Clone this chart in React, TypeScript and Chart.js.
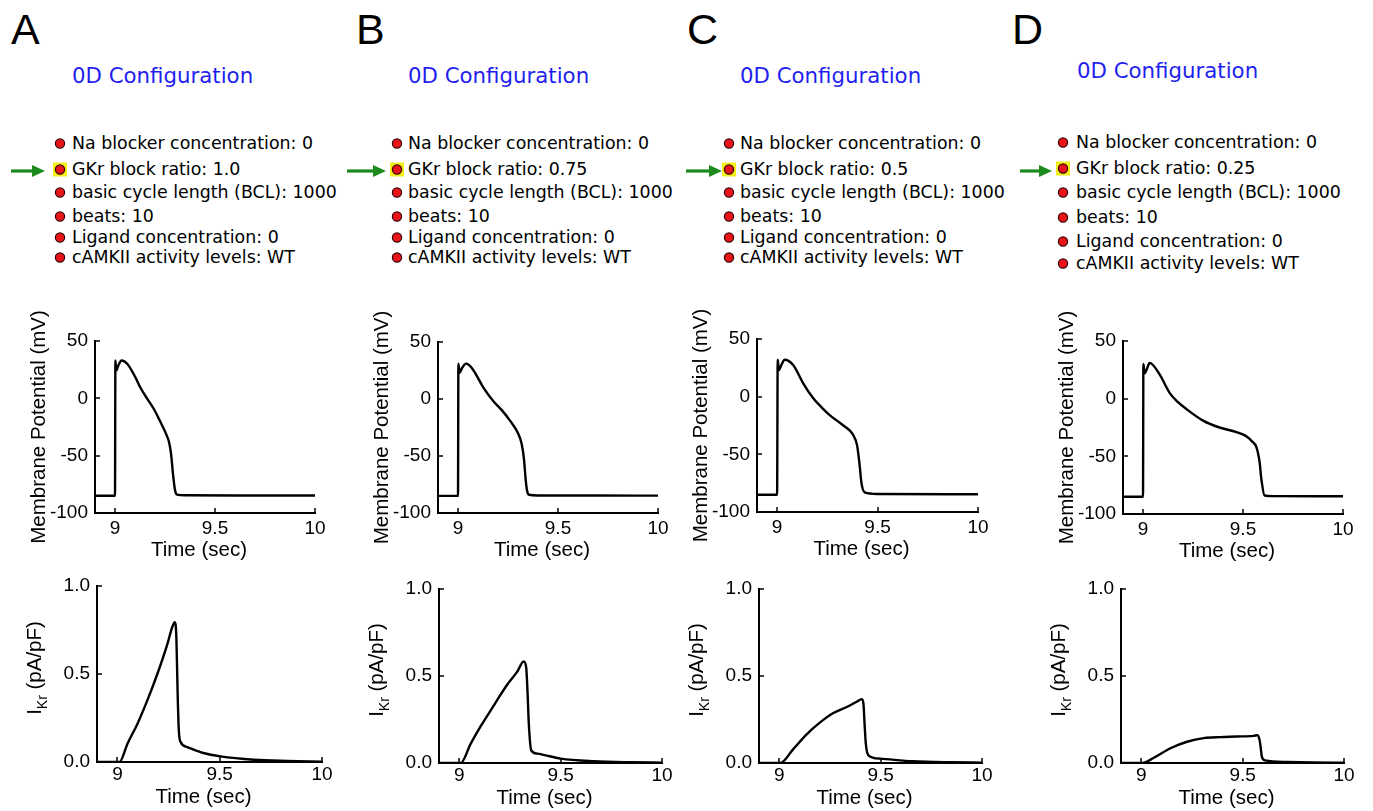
import React, { useEffect, useRef } from 'react';
import { Chart, registerables } from 'chart.js';

Chart.register(...registerables);

// ---------------- data ----------------
const panelLetters = ['A', 'B', 'C', 'D'];
const gkrBlockRatios = ['1.0', '0.75', '0.5', '0.25'];
const paramNames = [
  'Na blocker concentration',
  'GKr block ratio',
  'basic cycle length (BCL)',
  'beats',
  'Ligand concentration',
  'cAMKII activity levels',
];
const naBlocker = '0';
const bcl = '1000';
const beats = '10';
const ligand = '0';
const camkii = 'WT';

const xTickValues = [9, 9.5, 10];
const xTickLabels = ['9', '9.5', '10'];
const vmTickValues = [-100, -50, 0, 50];
const vmTickLabels = ['-100', '-50', '0', '50'];
const ikrTickValues = [0, 0.5, 1.0];
const ikrTickLabels = ['0.0', '0.5', '1.0'];

// Membrane potential (mV) vs time (sec)
const apTimeA = [8.9, 9.0, 9.002, 9.006, 9.015, 9.033, 9.062, 9.1, 9.128, 9.16, 9.195, 9.22, 9.245, 9.26, 9.27, 9.28, 9.29, 9.3, 9.31, 9.35, 9.6, 10];
const apVoltA = [-85, -85, 33, 24, 28, 33, 30, 19, 9, 0, -9.5, -18, -27, -33, -38, -48, -66, -80, -84, -84.5, -84.7, -84.8];

const apTimeB = [8.9, 9.0, 9.002, 9.008, 9.02, 9.04, 9.07, 9.127, 9.177, 9.22, 9.26, 9.3, 9.318, 9.33, 9.338, 9.345, 9.355, 9.4, 9.7, 10];
const apVoltB = [-85, -85, 31, 23, 27, 31, 27, 10, -2, -10, -19, -30, -39, -53, -70, -80, -84, -84.6, -84.7, -84.8];

const apTimeC = [8.9, 9.0, 9.003, 9.009, 9.02, 9.038, 9.08, 9.13, 9.18, 9.22, 9.262, 9.3, 9.33, 9.36, 9.378, 9.398, 9.41, 9.42, 9.436, 9.5, 10];
const apVoltC = [-85, -85, 32, 23, 27, 32, 27.5, 11.6, -1.4, -9, -16, -21, -25, -29, -33, -42, -58, -75, -83, -84.4, -84.6];

const apTimeD = [8.9, 9.0, 9.002, 9.008, 9.02, 9.033, 9.083, 9.133, 9.175, 9.217, 9.3, 9.383, 9.467, 9.52, 9.545, 9.567, 9.583, 9.592, 9.608, 9.65, 10];
const apVoltD = [-85, -85, 30, 22, 26, 31, 21, 5, -3, -9, -19, -25, -29, -33, -37, -42, -55, -70, -84, -84.5, -84.6];

// IKr (pA/pF) vs time (sec)
const ikrTimeA = [8.9, 9.0, 9.01, 9.049, 9.098, 9.146, 9.195, 9.244, 9.268, 9.28, 9.288, 9.294, 9.3, 9.309, 9.341, 9.42, 9.504, 9.667, 9.83, 10];
const ikrCurrA = [0, 0, 0, 0.104, 0.218, 0.35, 0.5, 0.67, 0.767, 0.795, 0.71, 0.4, 0.18, 0.114, 0.085, 0.051, 0.032, 0.013, 0.006, 0.002];

const ikrTimeB = [8.9, 9.0, 9.007, 9.056, 9.105, 9.17, 9.236, 9.286, 9.318, 9.33, 9.337, 9.343, 9.355, 9.384, 9.5, 9.663, 9.85, 10];
const ikrCurrB = [0, 0, 0, 0.11, 0.21, 0.33, 0.45, 0.525, 0.583, 0.55, 0.4, 0.227, 0.073, 0.054, 0.025, 0.01, 0.004, 0.002];

const ikrTimeC = [8.9, 9.0, 9.005, 9.069, 9.135, 9.2, 9.267, 9.333, 9.382, 9.407, 9.415, 9.421, 9.427, 9.44, 9.497, 9.66, 9.85, 10];
const ikrCurrC = [0, 0, 0, 0.08, 0.165, 0.232, 0.287, 0.322, 0.352, 0.367, 0.342, 0.22, 0.11, 0.044, 0.025, 0.01, 0.004, 0.002];

const ikrTimeD = [8.9, 9.0, 9.005, 9.062, 9.144, 9.226, 9.308, 9.39, 9.472, 9.554, 9.574, 9.584, 9.59, 9.595, 9.611, 9.718, 9.85, 10];
const ikrCurrD = [0, 0, 0, 0.03, 0.085, 0.122, 0.143, 0.149, 0.152, 0.156, 0.16, 0.13, 0.08, 0.035, 0.015, 0.006, 0.003, 0.002];

// ---------------- layout ----------------
const TICK_FONT = '"Liberation Sans", Arial, Helvetica, sans-serif';
const HEAD_FONT = '"DejaVu Sans", Verdana, sans-serif';

type Box = { left: number; top: number; right: number; bottom: number };

const headers = [
  { letterX: 11, titleX: 72, titleY: 83, bulletX: 60, textX: 72, baselines: [149, 175, 198, 222, 243, 263], arrow: [11, 45, 171] },
  { letterX: 356, titleX: 408, titleY: 83, bulletX: 397, textX: 408, baselines: [149, 175, 198, 222, 243, 263], arrow: [347, 386, 171] },
  { letterX: 687, titleX: 740, titleY: 83, bulletX: 729, textX: 740, baselines: [149, 175, 198, 222, 243, 263], arrow: [686, 722, 171] },
  { letterX: 1012, titleX: 1077, titleY: 78, bulletX: 1063, textX: 1076, baselines: [148, 174, 198, 223, 247, 269], arrow: [1020, 1052, 171] },
];

const apBoxes: Box[] = [
  { left: 95, top: 341, right: 315, bottom: 513 },
  { left: 438, top: 342, right: 658, bottom: 513 },
  { left: 757, top: 339, right: 978, bottom: 512 },
  { left: 1123, top: 341, right: 1343, bottom: 514 },
];
const ikrBoxes: Box[] = [
  { left: 97, top: 586, right: 322, bottom: 762 },
  { left: 439, top: 589, right: 662, bottom: 763 },
  { left: 759, top: 589, right: 982, bottom: 763 },
  { left: 1121, top: 589, right: 1344, bottom: 763 },
];

const apSeries = [
  [apTimeA, apVoltA],
  [apTimeB, apVoltB],
  [apTimeC, apVoltC],
  [apTimeD, apVoltD],
];
const ikrSeries = [
  [ikrTimeA, ikrCurrA],
  [ikrTimeB, ikrCurrB],
  [ikrTimeC, ikrCurrC],
  [ikrTimeD, ikrCurrD],
];

type Seg = { text: string; sub?: boolean };

const axisDecor = {
  id: 'axisDecor',
  afterDraw(chart: any, _args: any, opts: any) {
    const { ctx, chartArea: ca, scales } = chart;
    ctx.save();
    ctx.strokeStyle = '#000';
    ctx.lineWidth = 1.5;
    ctx.beginPath();
    scales.x.ticks.forEach((t: any) => {
      const px = Math.round(scales.x.getPixelForValue(t.value));
      ctx.moveTo(px, ca.bottom);
      ctx.lineTo(px, ca.bottom - 5);
    });
    scales.y.ticks.forEach((t: any) => {
      const py = Math.round(scales.y.getPixelForValue(t.value));
      ctx.moveTo(ca.left, py);
      ctx.lineTo(ca.left + 5, py);
    });
    ctx.stroke();

    // x title
    ctx.fillStyle = '#000';
    ctx.font = `${opts.titleSize}px ${TICK_FONT}`;
    ctx.textAlign = 'center';
    ctx.textBaseline = 'middle';
    ctx.fillText(opts.xTitle, (ca.left + ca.right) / 2 + opts.xTitleDx, ca.bottom + opts.xTitleDy);

    // y title (rotated, with optional subscript)
    const segs: Seg[] = opts.yTitle;
    const subSize = Math.round(opts.titleSize * 0.66);
    let total = 0;
    const widths = segs.map((s) => {
      ctx.font = `${s.sub ? subSize : opts.titleSize}px ${TICK_FONT}`;
      const w = ctx.measureText(s.text).width;
      total += w;
      return w;
    });
    ctx.translate(ca.left + opts.yTitleDx, (ca.top + ca.bottom) / 2 + opts.yTitleDy);
    ctx.rotate(-Math.PI / 2);
    ctx.textAlign = 'left';
    ctx.textBaseline = 'alphabetic';
    let x = -total / 2;
    const base = opts.titleSize * 0.35;
    segs.forEach((s, i) => {
      ctx.font = `${s.sub ? subSize : opts.titleSize}px ${TICK_FONT}`;
      ctx.fillText(s.text, x, s.sub ? base + subSize * 0.45 : base);
      x += widths[i];
    });
    ctx.restore();
  },
};

type TraceProps = {
  box: Box;
  t: number[];
  v: number[];
  yMin: number;
  yMax: number;
  yTicks: number[];
  yLabels: string[];
  yTitle: Seg[];
  yTitleDx: number;
  yTitleDy: number;
  xTitleDy: number;
  xTickPad: number;
};

function TraceChart(p: TraceProps) {
  const ref = useRef<HTMLCanvasElement>(null);
  const YW = 95;
  const XH = 55;
  const PT = 50;
  const PR = 25;
  const w = YW + (p.box.right - p.box.left) + PR;
  const h = PT + (p.box.bottom - p.box.top) + XH;

  useEffect(() => {
    if (!ref.current) return;
    const chart = new Chart(ref.current, {
      type: 'line',
      data: {
        datasets: [
          {
            data: p.t.map((x, i) => ({ x, y: p.v[i] })),
            borderColor: '#000',
            borderWidth: 2.4,
            pointRadius: 0,
            fill: false,
            cubicInterpolationMode: 'monotone',
          },
        ],
      },
      options: {
        responsive: false,
        animation: false,
        events: [],
        layout: { padding: { left: 0, top: PT, right: PR, bottom: 0 }, autoPadding: false },
        plugins: {
          legend: { display: false },
          tooltip: { enabled: false },
          axisDecor: {
            xTitle: 'Time (sec)',
            xTitleDx: -6,
            xTitleDy: p.xTitleDy,
            yTitle: p.yTitle,
            yTitleDx: p.yTitleDx,
            yTitleDy: p.yTitleDy,
            titleSize: 20.5,
          },
        } as any,
        scales: {
          x: {
            type: 'linear',
            min: 8.9,
            max: 10,
            grid: { display: false, drawTicks: false },
            border: { display: true, color: '#000', width: 2 },
            afterBuildTicks: (s: any) => {
              s.ticks = xTickValues.map((value) => ({ value }));
            },
            afterFit: (s: any) => {
              s.height = XH;
            },
            ticks: {
              color: '#000',
              padding: p.xTickPad,
              maxRotation: 0,
              font: { family: TICK_FONT, size: 19 },
              callback: (_v: any, i: number) => xTickLabels[i],
            },
          },
          y: {
            type: 'linear',
            min: p.yMin,
            max: p.yMax,
            grid: { display: false, drawTicks: false },
            border: { display: true, color: '#000', width: 2 },
            afterBuildTicks: (s: any) => {
              s.ticks = p.yTicks.map((value) => ({ value }));
            },
            afterFit: (s: any) => {
              s.width = YW;
            },
            ticks: {
              color: '#000',
              padding: 7,
              font: { family: TICK_FONT, size: 19 },
              callback: (_v: any, i: number) => p.yLabels[i],
            },
          },
        },
      },
      plugins: [axisDecor],
    } as any);
    return () => chart.destroy();
  }, []);

  return (
    <canvas
      ref={ref}
      width={w}
      height={h}
      style={{ position: 'absolute', left: p.box.left - YW, top: p.box.top - PT, width: w, height: h }}
    />
  );
}

function Header({ idx }: { idx: number }) {
  const h = headers[idx];
  const values = [naBlocker, gkrBlockRatios[idx], bcl, beats, ligand, camkii];
  const [ax1, ax2, ay] = h.arrow;
  return (
    <g>
      <text x={h.letterX} y={44} fontFamily={TICK_FONT} fontSize={43} fill="#000">
        {panelLetters[idx]}
      </text>
      <text x={h.titleX} y={h.titleY} fontFamily={HEAD_FONT} fontSize={21.3} fill="#1f1ff0">
        0D Configuration
      </text>
      {paramNames.map((name, i) => {
        const by = h.baselines[i];
        const cy = by - 5.5;
        return (
          <g key={i}>
            {i === 1 && <rect x={h.bulletX - 7} y={cy - 7} width={14} height={14} fill="#f4ee1c" />}
            <circle cx={h.bulletX} cy={cy} r={4.6} fill="#e8141a" stroke="#300" strokeWidth={1.2} />
            <text x={h.textX} y={by} fontFamily={HEAD_FONT} fontSize={17.4} fill="#000">
              {`${name}: ${values[i]}`}
            </text>
          </g>
        );
      })}
      <line x1={ax1} y1={ay} x2={ax2 - 11} y2={ay} stroke="#1d8a1d" strokeWidth={3.2} />
      <polygon points={`${ax2 - 13},${ay - 6} ${ax2},${ay} ${ax2 - 13},${ay + 6}`} fill="#1d8a1d" />
    </g>
  );
}

export default function App() {
  return (
    <div style={{ position: 'absolute', left: 0, top: 0, width: 1373, height: 811, background: '#fff', overflow: 'hidden' }}>
      <svg width={1373} height={811} style={{ position: 'absolute', left: 0, top: 0 }}>
        {[0, 1, 2, 3].map((i) => (
          <Header key={i} idx={i} />
        ))}
      </svg>
      {[0, 1, 2, 3].map((i) => (
        <TraceChart
          key={'ap' + i}
          box={apBoxes[i]}
          t={apSeries[i][0]}
          v={apSeries[i][1]}
          yMin={-100}
          yMax={50}
          yTicks={vmTickValues}
          yLabels={vmTickLabels}
          yTitle={[{ text: 'Membrane Potential (mV)' }]}
          yTitleDx={-57}
          yTitleDy={0}
          xTitleDy={37}
          xTickPad={4}
        />
      ))}
      {[0, 1, 2, 3].map((i) => (
        <TraceChart
          key={'ikr' + i}
          box={ikrBoxes[i]}
          t={ikrSeries[i][0]}
          v={ikrSeries[i][1]}
          yMin={0}
          yMax={1}
          yTicks={ikrTickValues}
          yLabels={ikrTickLabels}
          yTitle={[{ text: 'I' }, { text: 'Kr', sub: true }, { text: ' (pA/pF)' }]}
          yTitleDx={-63}
          yTitleDy={-6}
          xTitleDy={35}
          xTickPad={1}
        />
      ))}
    </div>
  );
}
